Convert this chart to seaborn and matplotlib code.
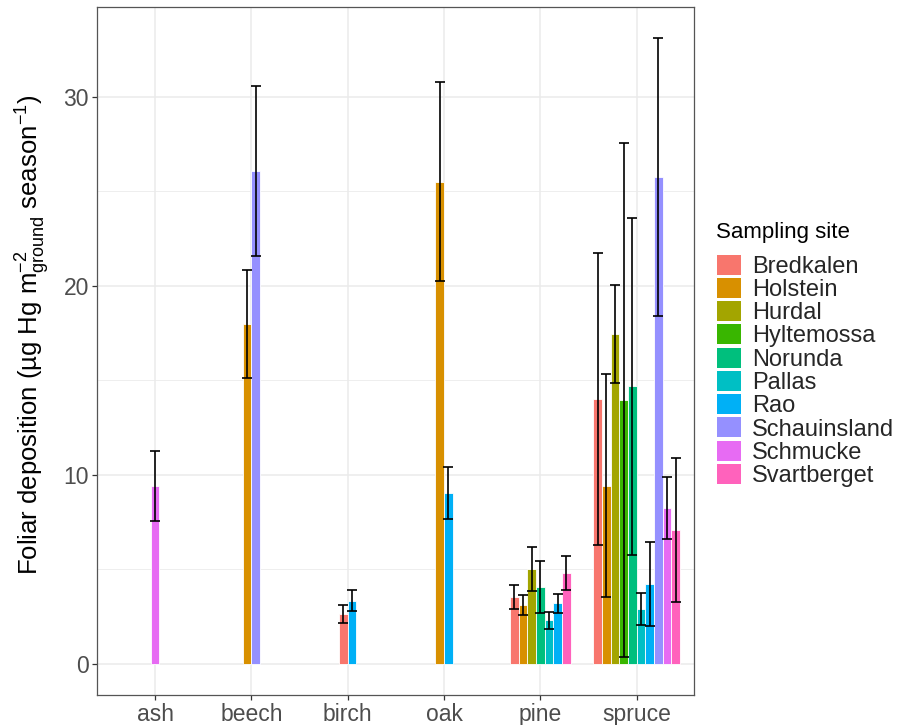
import numpy as np
import pandas as pd
import matplotlib
matplotlib.use("Agg")
import matplotlib.pyplot as plt
from matplotlib.patches import Patch
import seaborn as sns

# ---------------- data ----------------
species = ["ash", "beech", "birch", "oak", "pine", "spruce"]
sites = ["Bredkalen", "Holstein", "Hurdal", "Hyltemossa", "Norunda",
         "Pallas", "Rao", "Schauinsland", "Schmucke", "Svartberget"]
site_colors = ["#F8766D", "#D89000", "#A3A500", "#39B600", "#00BF7D",
               "#00BFC4", "#00B0F6", "#9590FF", "#E76BF3", "#FF62BC"]

ash_sites = ["Schmucke"]
ash_mean = [9.40]
ash_err = [1.84]

beech_sites = ["Holstein", "Schauinsland"]
beech_mean = [17.97, 26.07]
beech_err = [2.85, 4.48]

birch_sites = ["Bredkalen", "Rao"]
birch_mean = [2.63, 3.33]
birch_err = [0.48, 0.56]

oak_sites = ["Holstein", "Rao"]
oak_mean = [25.52, 9.03]
oak_err = [5.27, 1.36]

pine_sites = ["Bredkalen", "Holstein", "Hurdal", "Norunda", "Pallas", "Rao", "Svartberget"]
pine_mean = [3.54, 3.12, 5.03, 4.06, 2.29, 3.21, 4.81]
pine_err = [0.62, 0.53, 1.17, 1.37, 0.43, 0.50, 0.90]

spruce_sites = sites
spruce_mean = [14.00, 9.43, 17.45, 13.95, 14.68, 2.88, 4.21, 25.74, 8.23, 7.09]
spruce_err = [7.74, 5.90, 2.57, 13.60, 8.90, 0.85, 2.23, 7.35, 1.64, 3.80]

groups = [
    (ash_sites, ash_mean, ash_err),
    (beech_sites, beech_mean, beech_err),
    (birch_sites, birch_mean, birch_err),
    (oak_sites, oak_mean, oak_err),
    (pine_sites, pine_mean, pine_err),
    (spruce_sites, spruce_mean, spruce_err),
]

# dodge (like ggplot position_dodge(preserve = "single"))
dodge_total = 0.9
nmax = max(len(g[0]) for g in groups)
slot = dodge_total / nmax
rows = []
for k, (sp, (ss, mm, ee)) in enumerate(zip(species, groups)):
    n = len(ss)
    for i, (s, m, e) in enumerate(zip(ss, mm, ee)):
        rows.append(dict(species=sp, site=s, mean=m, err=e,
                         pos=round(k + (i - (n - 1) / 2) * slot, 6)))
df = pd.DataFrame(rows)

# ---------------- style ----------------
sns.set_theme(style="white")
plt.rcParams["font.family"] = ["Liberation Sans", "DejaVu Sans"]
plt.rcParams["mathtext.fontset"] = "custom"
plt.rcParams["mathtext.rm"] = "Liberation Sans"
plt.rcParams["mathtext.it"] = "Liberation Sans:italic"
plt.rcParams["mathtext.bf"] = "Liberation Sans:bold"
plt.rcParams["mathtext.default"] = "regular"

W, H = 898, 725
fig = plt.figure(figsize=(W / 100, H / 100), dpi=100)
ax = fig.add_axes([97.3 / W, 1 - 695 / H, (694.3 - 97.3) / W, (695 - 7) / H])
ax.set_facecolor("white")

palette = dict(zip(sites, site_colors))
sns.barplot(data=df, x="pos", y="mean", hue="site", hue_order=sites,
            palette=palette, native_scale=True, dodge=False, orient="x",
            width=1.0, errorbar=None, edgecolor="white", linewidth=0.6,
            saturation=1, legend=False, ax=ax, zorder=3)

ax.errorbar(df["pos"], df["mean"], yerr=df["err"], fmt="none",
            ecolor="black", elinewidth=1.2, capsize=3.4, capthick=1.2, zorder=4)

# axes
ax.set_xlim(-0.6, 5.6)
ax.set_ylim(-1.655, 34.755)
ax.set_xticks(range(len(species)))
ax.set_xticklabels(species)
ax.set_yticks([0, 10, 20, 30])
ax.set_yticks([5, 15, 25], minor=True)
ax.grid(True, which="major", color="#EBEBEB", linewidth=1.1, zorder=0)
ax.grid(True, which="minor", axis="y", color="#EBEBEB", linewidth=0.6, zorder=0)
ax.set_axisbelow(True)
for sp in ax.spines.values():
    sp.set_visible(True)
    sp.set_color("#555555")
    sp.set_linewidth(0.9)
ax.tick_params(axis="both", which="major", length=3.5, width=0.9, color="#333333",
               labelsize=16.5, labelcolor="#4D4D4D", pad=2.5, bottom=True, left=True)
ax.tick_params(axis="both", which="minor", length=0)

ax.set_xlabel("")
ax.set_ylabel("Foliar deposition (µg Hg m$^{-2}_{\\mathrm{ground}}$ season$^{-1}$)",
              fontsize=18.5, color="black")
ax.yaxis.set_label_coords((52 - 97.3) / (694.3 - 97.3), 0.523)

# legend
fig.text(716 / W, 1 - 232 / H, "Sampling site", fontsize=16,
         ha="left", va="center", color="black")
handles = [Patch(facecolor=c, edgecolor="none") for c in site_colors]
leg = fig.legend(handles, sites,
                 loc="upper left", bbox_to_anchor=(717 / W, 1 - 254.5 / H),
                 frameon=False, fontsize=17,
                 handlelength=1.02, handleheight=0.93, labelspacing=0.005,
                 handletextpad=0.45, borderpad=0, borderaxespad=0)

fig.savefig("out.png", dpi=100)
